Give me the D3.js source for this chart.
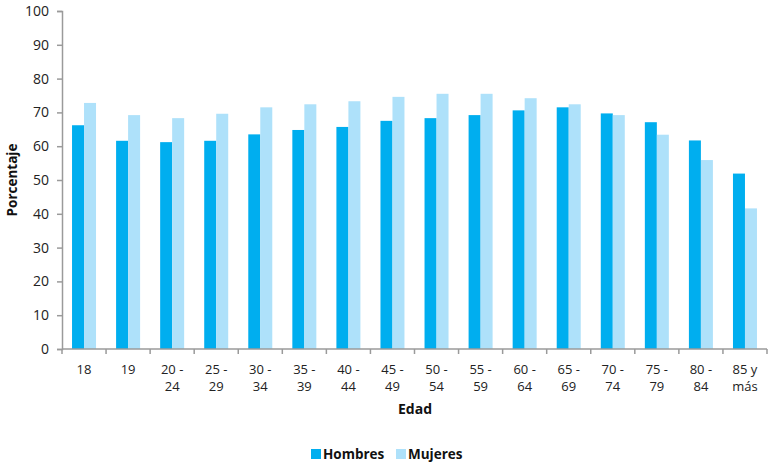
<!DOCTYPE html>
<html>
<head>
<meta charset="utf-8">
<script src="https://cdn.jsdelivr.net/npm/d3@7"></script>
<style>
  html, body { margin: 0; padding: 0; background: #fff; }
  svg { display: block; font-family: "Open Sans", "Noto Sans", sans-serif; }
</style>
</head>
<body>
<svg id="chart" width="768" height="466"></svg>
<script>
// Age groups (multi-line labels split on "\n")
const categories = ["18", "19", "20 -\n24", "25 -\n29", "30 -\n34", "35 -\n39", "40 -\n44", "45 -\n49",
  "50 -\n54", "55 -\n59", "60 -\n64", "65 -\n69", "70 -\n74", "75 -\n79", "80 -\n84", "85 y\nmás"];
const hombres = [66.2, 61.6, 61.2, 61.6, 63.5, 64.8, 65.7, 67.5, 68.3, 69.2, 70.6, 71.5, 69.7, 67.1, 61.7, 51.9];
const mujeres = [72.8, 69.2, 68.3, 69.6, 71.5, 72.4, 73.3, 74.6, 75.5, 75.5, 74.2, 72.4, 69.2, 63.4, 55.9, 41.6];
const seriesNames = ["Hombres", "Mujeres"];
const yTicks = [0, 10, 20, 30, 40, 50, 60, 70, 80, 90, 100];

const colors = ["#00AEEF", "#AEE1FA"];
const axisColor = "#9a9a9a";

const svg = d3.select("#chart");
const margin = { left: 62, right: 1, top: 11, bottom: 117 };
const W = 768, H = 466;

const x = d3.scaleBand().domain(categories).range([margin.left, W - margin.right]).padding(0);
const xs = d3.scaleBand().domain(seriesNames).range([0, 24]);
const y = d3.scaleLinear().domain([0, 100]).range([H - margin.bottom, margin.top]);

const data = categories.map((c, i) => ({ cat: c, values: [hombres[i], mujeres[i]] }));

// Bars
const groups = svg.append("g").selectAll("g").data(data).join("g")
  .attr("transform", d => `translate(${x(d.cat) + (x.bandwidth() - 24) / 2},0)`);
groups.selectAll("rect").data(d => d.values.map((v, j) => ({ v, s: seriesNames[j], j })))
  .join("rect")
  .attr("x", d => xs(d.s))
  .attr("width", xs.bandwidth())
  .attr("y", d => y(d.v))
  .attr("height", d => y(0) - y(d.v))
  .attr("fill", d => colors[d.j]);

// Y axis
const yAxis = svg.append("g").attr("transform", `translate(${margin.left},0)`)
  .call(d3.axisLeft(y).tickValues(yTicks).tickSize(5).tickPadding(8));
yAxis.select(".domain").attr("stroke", axisColor).attr("stroke-width", 1.5);
yAxis.selectAll(".tick line").attr("stroke", axisColor).attr("stroke-width", 1.5);
yAxis.selectAll(".tick text").attr("font-size", 14).attr("fill", "#222")
  .attr("font-family", "'Open Sans', sans-serif");

// X axis: ticks at band boundaries
const xAxisG = svg.append("g").attr("transform", `translate(0,${y(0)})`);
xAxisG.append("line").attr("x1", margin.left).attr("x2", W - margin.right)
  .attr("stroke", axisColor).attr("stroke-width", 1.5);
const boundaries = categories.map(c => x(c)).concat([x.range()[1]]);
xAxisG.selectAll("line.tk").data(boundaries).join("line").attr("class", "tk")
  .attr("x1", d => d).attr("x2", d => d).attr("y1", 0).attr("y2", 5)
  .attr("stroke", axisColor).attr("stroke-width", 1.5);
const xl = xAxisG.selectAll("text").data(categories).join("text")
  .attr("text-anchor", "middle")
  .attr("font-size", 13).attr("fill", "#222")
  .attr("transform", d => `translate(${x(d) + x.bandwidth() / 2},25)`);
xl.selectAll("tspan").data(d => d.split("\n")).join("tspan")
  .attr("x", 0).attr("dy", (d, i) => i === 0 ? 0 : 17).text(d => d);

// Axis titles
svg.append("text").attr("x", 415).attr("y", 414).attr("text-anchor", "middle")
  .attr("font-size", 14).attr("font-weight", "bold").attr("fill", "#111").text("Edad");
svg.append("text").attr("transform", `translate(17,${(y(0) + y(100)) / 2}) rotate(-90)`)
  .attr("text-anchor", "middle").attr("font-size", 13.5).attr("font-weight", "bold")
  .attr("fill", "#111").text("Porcentaje");

// Legend
const legend = svg.append("g").attr("transform", "translate(311,459)");
const lx = [0, 85];
seriesNames.forEach((s, i) => {
  const g = legend.append("g").attr("transform", `translate(${lx[i]},0)`);
  g.append("rect").attr("x", 0).attr("y", -10).attr("width", 10).attr("height", 10).attr("fill", colors[i]);
  g.append("text").attr("x", 12).attr("y", 0).attr("font-size", 13.5).attr("font-weight", "bold")
    .attr("fill", "#111").text(s);
});
</script>
</body>
</html>
